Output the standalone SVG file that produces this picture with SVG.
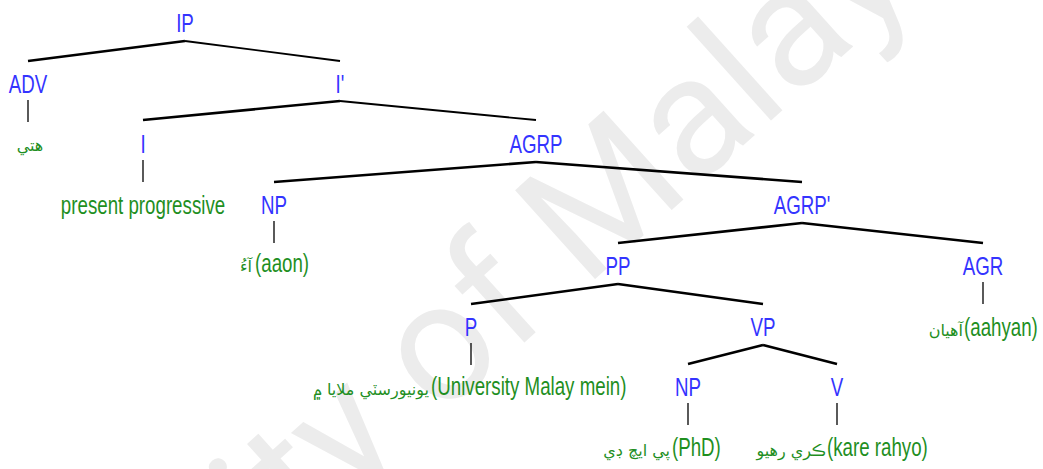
<svg xmlns="http://www.w3.org/2000/svg" width="1043" height="469" viewBox="0 0 1043 469">
  <style>
    .lbl { font-family: "Liberation Sans", Arial, sans-serif; font-size: 26px; fill: #3434ff; }
    .lf  { font-family: "Liberation Sans", Arial, sans-serif; font-size: 26px; fill: #1f8f1f; }
    .ar  { font-family: "DejaVu Sans", "Noto Sans", sans-serif; font-size: 16px; fill: #1f8f1f; }
    .br  { stroke: #000; stroke-width: 2.6; fill: none; stroke-linecap: butt; }
    .brt { stroke: #000; stroke-width: 1.8; fill: none; }
    .tk  { stroke: #000; stroke-width: 1.3; }
    .wm  { font-family: Roboto, "Open Sans", sans-serif; font-size: 168px; fill: #ececec; }
  </style>

  <rect width="1043" height="469" fill="#fff"/>

  <!-- background watermark -->
  <text class="wm" text-anchor="middle" transform="translate(425 432) rotate(-42)">University of Malaya</text>

  <!-- tree branches and leaf ticks -->
  <g id="connectors">
    <line class="br"  x1="28"  y1="61"  x2="185" y2="41"/>
    <line class="brt" x1="185" y1="41"  x2="340" y2="61"/>
    <line class="br"  x1="143" y1="120" x2="340" y2="101"/>
    <line class="brt" x1="340" y1="101" x2="536" y2="120"/>
    <line class="br"  x1="274" y1="182" x2="536" y2="162"/>
    <line class="br"  x1="536" y1="162" x2="802" y2="182"/>
    <line class="br"  x1="618" y1="243" x2="802" y2="223"/>
    <line class="br"  x1="802" y1="223" x2="983" y2="243"/>
    <line class="br"  x1="471" y1="304" x2="618" y2="284"/>
    <line class="br"  x1="618" y1="284" x2="763" y2="304"/>
    <line class="br"  x1="688" y1="364" x2="763" y2="345"/>
    <line class="br"  x1="763" y1="345" x2="837" y2="364"/>

    <line class="tk" x1="28"  y1="100" x2="28"  y2="122"/>
    <line class="tk" x1="143" y1="160" x2="143" y2="182"/>
    <line class="tk" x1="274" y1="221" x2="274" y2="243"/>
    <line class="tk" x1="983" y1="282" x2="983" y2="304"/>
    <line class="tk" x1="471" y1="343" x2="471" y2="365"/>
    <line class="tk" x1="688" y1="403" x2="688" y2="425"/>
    <line class="tk" x1="837" y1="403" x2="837" y2="425"/>
  </g>

  <!-- category nodes -->
  <g id="n-ip"><text class="lbl" text-anchor="middle" transform="translate(185 32) scale(.72 1)">IP</text></g>
  <g id="n-adv"><text class="lbl" text-anchor="middle" transform="translate(28 93) scale(.72 1)">ADV</text></g>
  <g id="n-ibar"><text class="lbl" text-anchor="middle" transform="translate(340 93) scale(.72 1)">I'</text></g>
  <g id="n-i"><text class="lbl" text-anchor="middle" transform="translate(143 153) scale(.72 1)">I</text></g>
  <g id="n-agrp"><text class="lbl" text-anchor="middle" transform="translate(536 153) scale(.72 1)">AGRP</text></g>
  <g id="n-np1"><text class="lbl" text-anchor="middle" transform="translate(274 214) scale(.72 1)">NP</text></g>
  <g id="n-agrpbar"><text class="lbl" text-anchor="middle" transform="translate(802 214) scale(.72 1)">AGRP'</text></g>
  <g id="n-pp"><text class="lbl" text-anchor="middle" transform="translate(618 275) scale(.72 1)">PP</text></g>
  <g id="n-agr"><text class="lbl" text-anchor="middle" transform="translate(983 275) scale(.72 1)">AGR</text></g>
  <g id="n-p"><text class="lbl" text-anchor="middle" transform="translate(471 336) scale(.72 1)">P</text></g>
  <g id="n-vp"><text class="lbl" text-anchor="middle" transform="translate(763 336) scale(.72 1)">VP</text></g>
  <g id="n-np2"><text class="lbl" text-anchor="middle" transform="translate(688 396) scale(.72 1)">NP</text></g>
  <g id="n-v"><text class="lbl" text-anchor="middle" transform="translate(837 396) scale(.72 1)">V</text></g>

  <!-- leaf words -->
  <g id="w-adv"><text class="ar" text-anchor="middle" x="30" y="151">هتي</text></g>
  <g id="w-i"><text class="lf" text-anchor="middle" transform="translate(143 214) scale(.72 1)">present progressive</text></g>
  <g id="w-np1">
    <text class="ar" text-anchor="end" x="252" y="272">آءُ</text>
    <text class="lf" transform="translate(255 272) scale(.72 1)">(aaon)</text>
  </g>
  <g id="w-agr">
    <text class="ar" text-anchor="end" x="963" y="336">آهيان</text>
    <text class="lf" transform="translate(964 336) scale(.72 1)">(aahyan)</text>
  </g>
  <g id="w-p">
    <text class="ar" text-anchor="end" x="429" y="395">يونيورسٽي ملايا ۾</text>
    <text class="lf" transform="translate(431 395) scale(.72 1)">(University Malay mein)</text>
  </g>
  <g id="w-np2">
    <text class="ar" text-anchor="end" x="670" y="456">پي ايچ ڊي</text>
    <text class="lf" transform="translate(672 456) scale(.72 1)">(PhD)</text>
  </g>
  <g id="w-v">
    <text class="ar" text-anchor="end" x="826" y="456">ڪري رهيو</text>
    <text class="lf" transform="translate(827 456) scale(.72 1)">(kare rahyo)</text>
  </g>
</svg>
